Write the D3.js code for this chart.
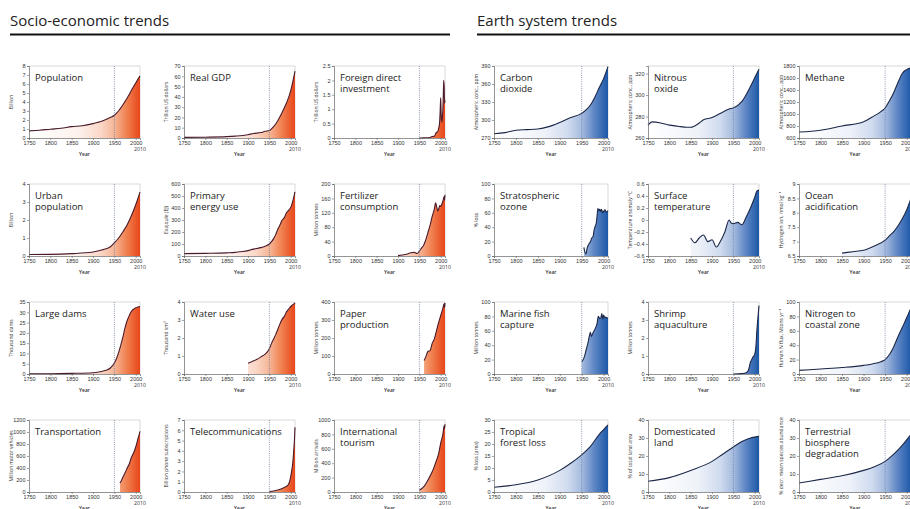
<!DOCTYPE html>
<html><head><meta charset="utf-8">
<script src="https://cdn.jsdelivr.net/npm/d3@7"></script>
<style>
body{margin:0;background:#fff;}
svg{display:block;font-family:"Open Sans",sans-serif;}
</style></head><body>
<svg id="c" width="910" height="509"></svg>
<script>
// ---------- data ----------
const xTicks = [1750,1800,1850,1900,1950,2000];

const popYears = [1750,1775,1800,1825,1850,1875,1900,1910,1920,1930,1940,1950,1955,1960,1965,1970,1975,1980,1985,1990,1995,2000,2005,2010];
const popValues = [0.79,0.86,0.98,1.08,1.26,1.36,1.6,1.72,1.86,2.05,2.28,2.53,2.77,3.03,3.34,3.7,4.07,4.44,4.85,5.31,5.72,6.12,6.51,6.9];

const gdpYears = [1750,1800,1850,1870,1900,1913,1930,1940,1950,1960,1970,1980,1990,2000,2005,2010];
const gdpValues = [0.6,0.8,1.3,1.8,3.2,4.4,5.3,6.5,7.3,11,17,25,34,46,55,65];

const fdiYears = [1950,1960,1970,1975,1980,1985,1990,1993,1995,1997,1998,1999,2000,2001,2002,2003,2004,2005,2006,2007,2008,2009,2010];
const fdiValues = [0,0.005,0.01,0.02,0.05,0.06,0.2,0.22,0.33,0.48,0.7,1.08,1.4,0.83,0.62,0.56,0.74,0.98,1.46,2.0,1.77,1.2,1.3];

const urbanYears = [1750,1800,1850,1900,1920,1930,1940,1950,1960,1970,1980,1990,2000,2010];
const urbanValues = [0.08,0.09,0.13,0.22,0.33,0.4,0.5,0.73,1.0,1.35,1.74,2.25,2.85,3.55];

const energyYears = [1750,1800,1850,1870,1880,1900,1910,1920,1930,1940,1950,1955,1960,1965,1970,1975,1980,1985,1990,1995,2000,2005,2010];
const energyValues = [20,22,26,30,35,45,55,62,70,82,100,120,145,180,225,260,300,320,360,380,405,460,535];

const fertYears = [1900,1910,1920,1930,1938,1945,1950,1955,1960,1965,1970,1975,1980,1985,1988,1990,1993,1995,1998,2000,2003,2005,2008,2009,2010];
const fertValues = [1,3,5,9,10,7,14,22,30,45,65,85,110,130,148,140,125,130,140,138,145,152,165,155,170];

const damsYears = [1750,1800,1850,1900,1920,1930,1940,1950,1955,1960,1965,1970,1975,1980,1985,1990,1995,2000,2005,2010];
const damsValues = [0.1,0.15,0.3,0.6,1.2,1.8,2.8,5.3,7.5,10.5,14,18,22.5,26,28.5,30.5,31.5,32.2,32.6,32.8];

const waterYears = [1900,1910,1920,1930,1940,1950,1955,1960,1965,1970,1975,1980,1985,1990,1995,2000,2005,2010];
const waterValues = [0.6,0.7,0.8,0.95,1.1,1.4,1.7,1.95,2.2,2.5,2.8,3.05,3.2,3.45,3.6,3.75,3.85,3.95];

const paperYears = [1961,1965,1970,1975,1980,1985,1990,1995,2000,2005,2008,2009,2010];
const paperValues = [75,95,125,130,170,195,240,285,325,365,390,370,395];

const transYears = [1963,1965,1970,1975,1980,1985,1990,1995,2000,2005,2010];
const transValues = [150,170,250,320,400,470,580,650,750,880,1010];

const telecomYears = [1950,1960,1970,1980,1985,1990,1995,2000,2002,2005,2007,2009,2010];
const telecomValues = [0.05,0.1,0.2,0.35,0.45,0.55,0.75,1.5,2.0,2.9,4.0,5.3,6.3];

const tourYears = [1950,1960,1970,1980,1990,1995,2000,2005,2008,2009,2010];
const tourValues = [25,70,165,280,440,530,680,800,920,880,940];

const co2Years = [1750,1775,1800,1825,1850,1875,1900,1925,1950,1960,1970,1980,1990,2000,2010];
const co2Values = [277,279,283,284,285,289,296,304,311,317,325,338,354,369,389];

const n2oYears = [1750,1760,1780,1800,1820,1840,1850,1870,1880,1900,1920,1940,1950,1970,1990,2000,2010];
const n2oValues = [272,275,274,272,271,270,270,274,277,279,283,287,288,294,308,316,324];

const ch4Years = [1750,1800,1850,1900,1920,1940,1950,1960,1970,1980,1990,2000,2010];
const ch4Values = [700,730,800,870,950,1040,1100,1220,1360,1530,1680,1740,1770];

const ozoneYears = [1955,1957,1960,1962,1965,1968,1970,1973,1976,1978,1980,1983,1985,1987,1989,1991,1993,1995,1998,2000,2003,2006,2010];
const ozoneValues = [12,6,3,10,15,18,20,25,27,35,40,45,55,66,63,65,62,65,60,62,64,61,63];

const tempYears = [1850,1860,1870,1880,1890,1900,1910,1920,1930,1940,1945,1950,1960,1970,1980,1990,2000,2005,2010];
const tempValues = [-0.3,-0.38,-0.3,-0.25,-0.36,-0.33,-0.45,-0.35,-0.2,0.0,-0.05,-0.06,-0.04,-0.08,0.05,0.2,0.38,0.48,0.5];

const oceanYears = [1850,1875,1900,1925,1950,1960,1970,1980,1990,2000,2010];
const oceanValues = [6.6,6.65,6.7,6.85,7.05,7.2,7.35,7.55,7.8,8.1,8.5];

const fishYears = [1950,1955,1960,1965,1970,1972,1975,1980,1985,1988,1990,1993,1996,1998,2000,2003,2005,2010];
const fishValues = [17,22,33,45,58,52,56,62,70,80,78,77,84,76,82,78,79,77];

const shrimpYears = [1950,1970,1975,1980,1985,1990,1995,2000,2003,2005,2007,2010];
const shrimpValues = [0,0.02,0.04,0.07,0.2,0.65,0.9,1.1,1.6,2.4,3.0,3.8];

const nitroYears = [1750,1800,1850,1900,1920,1940,1950,1960,1970,1980,1990,2000,2010];
const nitroValues = [5,7,9,12,14,17,20,27,38,52,65,78,92];

const forestYears = [1750,1800,1850,1900,1925,1950,1970,1990,2000,2010];
const forestValues = [2,3,5,9,12,15.5,19,24,26,28];

const landYears = [1750,1800,1850,1900,1925,1950,1970,1990,2000,2010];
const landValues = [6,8,12,17,21,25,28,30,30.5,31];

const bioYears = [1750,1800,1850,1900,1925,1950,1970,1990,2000,2010];
const bioValues = [5,7,9,12,14,17,21,26,29,32];

// ---------- panel definitions ----------
const panels = [
 {title:["Population"], unit:"Billion", years:popYears, values:popValues, domain:[0,8], ticks:d3.range(0,9,1), theme:"o", col:0, row:0},
 {title:["Real GDP"], unit:"Trillion US dollars", years:gdpYears, values:gdpValues, domain:[0,70], ticks:d3.range(0,71,10), theme:"o", col:1, row:0},
 {title:["Foreign direct","investment"], unit:"Trillion US dollars", years:fdiYears, values:fdiValues, domain:[0,2.5], ticks:[0,0.5,1,1.5,2,2.5], theme:"o", col:2, row:0},
 {title:["Urban","population"], unit:"Billion", years:urbanYears, values:urbanValues, domain:[0,4], ticks:[0,1,2,3,4], theme:"o", col:0, row:1},
 {title:["Primary","energy use"], unit:"Exajoule (EJ)", years:energyYears, values:energyValues, domain:[0,600], ticks:d3.range(0,601,100), theme:"o", col:1, row:1},
 {title:["Fertilizer","consumption"], unit:"Million tonnes", years:fertYears, values:fertValues, domain:[0,200], ticks:[0,40,80,120,160,200], theme:"o", col:2, row:1},
 {title:["Large dams"], unit:"Thousand dams", years:damsYears, values:damsValues, domain:[0,35], ticks:d3.range(0,36,5), theme:"o", col:0, row:2},
 {title:["Water use"], unit:"Thousand km³", years:waterYears, values:waterValues, domain:[0,4], ticks:[0,1,2,3,4], theme:"o", col:1, row:2},
 {title:["Paper","production"], unit:"Million tonnes", years:paperYears, values:paperValues, domain:[0,400], ticks:[0,100,200,300,400], theme:"o", col:2, row:2},
 {title:["Transportation"], unit:"Million motor vehicles", years:transYears, values:transValues, domain:[0,1200], ticks:d3.range(0,1201,200), theme:"o", col:0, row:3},
 {title:["Telecommunications"], unit:"Billion phone subscriptions", years:telecomYears, values:telecomValues, domain:[0,7], ticks:d3.range(0,8,1), theme:"o", col:1, row:3},
 {title:["International","tourism"], unit:"Million arrivals", years:tourYears, values:tourValues, domain:[0,1000], ticks:d3.range(0,1001,200), theme:"o", col:2, row:3},
 {title:["Carbon","dioxide"], unit:"Atmospheric conc., ppm", years:co2Years, values:co2Values, domain:[270,390], ticks:[270,300,330,360,390], theme:"b", col:3, row:0},
 {title:["Nitrous","oxide"], unit:"Atmospheric conc., ppb", years:n2oYears, values:n2oValues, domain:[260,327], ticks:[260,280,300,320], theme:"b", col:4, row:0},
 {title:["Methane"], unit:"Atmospheric conc., ppb", years:ch4Years, values:ch4Values, domain:[600,1800], ticks:d3.range(600,1801,200), theme:"b", col:5, row:0},
 {title:["Stratospheric","ozone"], unit:"% loss", years:ozoneYears, values:ozoneValues, domain:[0,100], ticks:d3.range(0,101,20), theme:"b", col:3, row:1},
 {title:["Surface","temperature"], unit:"Temperature anomaly °C", years:tempYears, values:tempValues, domain:[-0.6,0.6], ticks:[-0.6,-0.4,-0.2,0,0.2,0.4,0.6], theme:"b", col:4, row:1},
 {title:["Ocean","acidification"], unit:"Hydrogen ion, nmol kg⁻¹", years:oceanYears, values:oceanValues, domain:[6.5,9.0], ticks:[6.5,7.0,7.5,8.0,8.5,9.0], theme:"b", col:5, row:1},
 {title:["Marine fish","capture"], unit:"Million tonnes", years:fishYears, values:fishValues, domain:[0,100], ticks:d3.range(0,101,20), theme:"b", col:3, row:2},
 {title:["Shrimp","aquaculture"], unit:"Million tonnes", years:shrimpYears, values:shrimpValues, domain:[0,4], ticks:[0,1,2,3,4], theme:"b", col:4, row:2},
 {title:["Nitrogen to","coastal zone"], unit:"Human N flux, Mtons yr⁻¹", years:nitroYears, values:nitroValues, domain:[0,100], ticks:d3.range(0,101,20), theme:"b", col:5, row:2},
 {title:["Tropical","forest loss"], unit:"% loss (area)", years:forestYears, values:forestValues, domain:[0,30], ticks:d3.range(0,31,5), theme:"b", col:3, row:3},
 {title:["Domesticated","land"], unit:"% of total land area", years:landYears, values:landValues, domain:[0,40], ticks:d3.range(0,41,10), theme:"b", col:4, row:3},
 {title:["Terrestrial","biosphere","degradation"], unit:"% decr. mean species abundance", years:bioYears, values:bioValues, domain:[0,40], ticks:d3.range(0,41,10), theme:"b", col:5, row:3}
];

// ---------- layout & style ----------
const colLeft = [29,184,334,494,648,799];
const colW = [111,111,111,114,111,112];
const rowTop = [66,184,302,420];
const plotH = 72;
const themes = {
  o:{line:"#4a1a2a", stops:[[0,"#ffffff"],[0.45,"#fdf1eb"],[0.65,"#fad6c6"],[0.77,"#f6b596"],[0.88,"#f0804f"],[1,"#e8461a"]]},
  b:{line:"#1b2748", stops:[[0,"#ffffff"],[0.45,"#eef2f9"],[0.65,"#cfdbef"],[0.77,"#a5bbdf"],[0.88,"#5e86c5"],[1,"#1c58a7"]]}
};

const svg = d3.select("#c");
const defs = svg.append("defs");

// section headers
const headers = [{t:"Socio-economic trends", x:10, x2:450},{t:"Earth system trends", x:477, x2:910}];
headers.forEach(h=>{
  svg.append("text").attr("x",h.x).attr("y",26).attr("font-size",15).attr("fill","#222").text(h.t);
  svg.append("line").attr("x1",h.x).attr("x2",h.x2).attr("y1",34.5).attr("y2",34.5).attr("stroke","#111").attr("stroke-width",2);
});

panels.forEach((p,i)=>{
  const w = colW[p.col], x0 = colLeft[p.col], y0 = rowTop[p.row];
  const th = themes[p.theme];
  const g = svg.append("g").attr("transform",`translate(${x0},${y0})`);
  const x = d3.scaleLinear().domain([1750,2010]).range([0,w]);
  const y = d3.scaleLinear().domain(p.domain).range([plotH,0]);

  const gid = "grad"+i;
  const grad = defs.append("linearGradient").attr("id",gid).attr("gradientUnits","userSpaceOnUse")
    .attr("x1",0).attr("x2",w).attr("y1",0).attr("y2",0);
  th.stops.forEach(s=>grad.append("stop").attr("offset",s[0]).attr("stop-color",s[1]));

  // frame (top/right)
  g.append("path").attr("d",`M0,0H${w}V${plotH}`).attr("fill","none").attr("stroke","#c9c9c9").attr("stroke-width",0.7);

  const data = p.years.map((yr,k)=>[yr,p.values[k]]);
  g.append("path").datum(data)
    .attr("d", d3.area().x(d=>x(d[0])).y0(plotH).y1(d=>y(d[1])).curve(d3.curveMonotoneX))
    .attr("fill",`url(#${gid})`);
  g.append("path").datum(data)
    .attr("d", d3.line().x(d=>x(d[0])).y(d=>y(d[1])).curve(d3.curveMonotoneX))
    .attr("fill","none").attr("stroke",th.line).attr("stroke-width",1.1);

  g.append("line").attr("x1",x(1950)).attr("x2",x(1950)).attr("y1",0).attr("y2",plotH)
    .attr("stroke","#6f7f9f").attr("stroke-width",0.8).attr("stroke-dasharray","1,1.2");

  // axes
  const xa = g.append("g").attr("transform",`translate(0,${plotH})`)
    .call(d3.axisBottom(x).tickValues(xTicks).tickSize(2).tickPadding(1).tickFormat(d3.format("d")));
  const ya = g.append("g")
    .call(d3.axisLeft(y).tickValues(p.ticks).tickSize(2).tickPadding(1.5).tickFormat(d=>d3.format("~g")(+d.toFixed(2))));
  [xa,ya].forEach(a=>{
    a.select(".domain").attr("stroke","#666").attr("stroke-width",0.7);
    a.selectAll(".tick line").attr("stroke","#666").attr("stroke-width",0.6);
    a.selectAll("text").attr("font-size",5.5).attr("fill","#333");
  });
  g.append("text").attr("x",w).attr("y",plotH+13).attr("text-anchor","middle").attr("font-size",5.2).attr("fill","#333").text("2010");
  g.append("text").attr("x",w/2).attr("y",plotH+17.5).attr("text-anchor","middle").attr("font-size",5).attr("font-weight",600).attr("fill","#333").text("Year");

  // y label
  g.append("text").attr("transform",`translate(-16,${plotH/2}) rotate(-90)`).attr("text-anchor","middle")
    .attr("font-size",5).attr("fill","#333").text(p.unit);

  // title (one text element, lines as tspans)
  const tt = g.append("text").attr("x",6).attr("y",15).attr("font-size",9.5).attr("fill","#222");
  p.title.forEach((t,k)=>{
    tt.append("tspan").attr("x",6).attr("dy",k===0?0:11).text(t);
  });
});
</script>
</body></html>
